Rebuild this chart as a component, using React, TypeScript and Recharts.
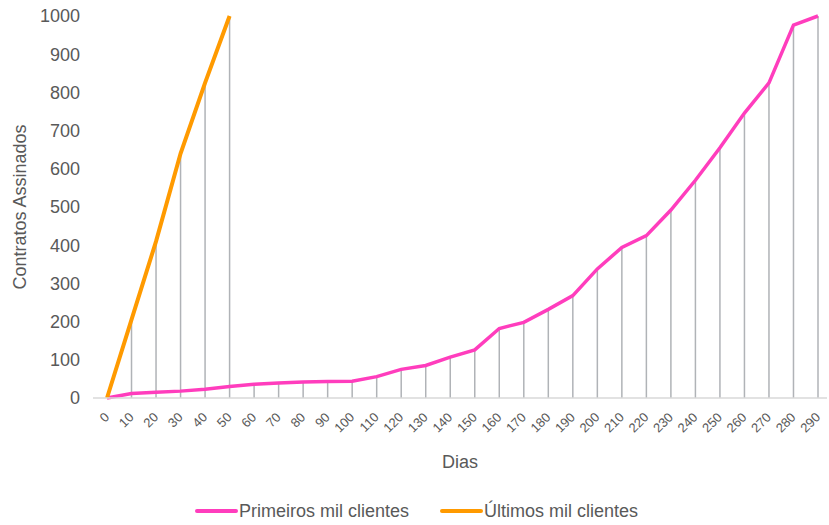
import React from "react";
import { LineChart, Line, XAxis, YAxis, Legend, ErrorBar } from "recharts";

// Dias (categorias do eixo X)
const dias = [
  "0", "10", "20", "30", "40", "50", "60", "70", "80", "90",
  "100", "110", "120", "130", "140", "150", "160", "170", "180", "190",
  "200", "210", "220", "230", "240", "250", "260", "270", "280", "290",
];

// Contratos assinados - primeiros mil clientes
const primeiros = [
  0, 12, 15, 18, 23, 30, 36, 39, 42, 43,
  44, 56, 75, 85, 107, 126, 182, 198, 232, 268,
  338, 394, 425, 492, 570, 655, 746, 825, 976, 1000,
];

// Contratos assinados - últimos mil clientes (só até o dia 50)
const ultimos = [0, 205, 410, 640, 825, 1000];

const yTicks = [0, 100, 200, 300, 400, 500, 600, 700, 800, 900, 1000];

const PINK = "#ff3dbd";
const ORANGE = "#ff9a00";
const GRAY_TEXT = "#595959";
const FONT = "'Liberation Sans', Arial, sans-serif";

const data = dias.map((dia, i) => {
  const u = i < ultimos.length ? ultimos[i] : null;
  return {
    dia,
    primeiros: primeiros[i],
    ultimos: u,
    topo: Math.max(primeiros[i], u ?? 0),
  };
});

const XTick = (props: any) => {
  const { x, y, payload } = props;
  const tx = x + 3;
  const ty = y + 12;
  return (
    <text
      x={tx}
      y={ty}
      textAnchor="end"
      transform={`rotate(-45, ${tx}, ${ty})`}
      fill={GRAY_TEXT}
      fontSize={13}
      fontFamily={FONT}
    >
      {payload.value}
    </text>
  );
};

const LegendContent = () => {
  const items = [
    { label: "Primeiros mil clientes", color: PINK },
    { label: "Últimos mil clientes", color: ORANGE },
  ];
  return (
    <div
      style={{
        display: "flex",
        justifyContent: "center",
        alignItems: "center",
        height: 24,
        gap: 31,
        paddingLeft: 6,
        fontFamily: FONT,
        fontSize: 18,
        color: GRAY_TEXT,
      }}
    >
      {items.map((it) => (
        <div key={it.label} style={{ display: "flex", alignItems: "center" }}>
          <span
            style={{
              display: "inline-block",
              width: 43,
              height: 4,
              background: it.color,
              borderRadius: 2,
              marginRight: 1,
            }}
          />
          <span>{it.label}</span>
        </div>
      ))}
    </div>
  );
};

export default function App() {
  return (
    <div style={{ position: "fixed", left: 0, top: 0, background: "#fff" }}>
      <LineChart
        width={829}
        height={525}
        data={data}
        margin={{ top: 16, right: 2, left: 0, bottom: 2 }}
      >
        <XAxis
          dataKey="dia"
          scale="point"
          padding={{ left: 14, right: 9 }}
          interval={0}
          tickLine={false}
          axisLine={{ stroke: "#d9d9d9", strokeWidth: 1.5 }}
          tick={<XTick />}
          height={101}
          label={{
            value: "Dias",
            position: "insideBottom",
            offset: 31,
            fill: GRAY_TEXT,
            fontSize: 18,
            fontFamily: FONT,
          }}
        />
        <YAxis
          domain={[0, 1000]}
          ticks={yTicks}
          width={93}
          axisLine={false}
          tickLine={false}
          tickMargin={7}
          tick={{ fill: GRAY_TEXT, fontSize: 18, fontFamily: FONT }}
          label={{
            value: "Contratos Assinados",
            angle: -90,
            position: "insideLeft",
            offset: 20,
            fill: GRAY_TEXT,
            fontSize: 18,
            fontFamily: FONT,
            style: { textAnchor: "middle" },
          }}
        />
        <Legend verticalAlign="bottom" height={24} content={<LegendContent />} />
        {/* linhas verticais de cada ponto até o eixo */}
        <Line
          dataKey="topo"
          stroke="none"
          dot={false}
          activeDot={false}
          legendType="none"
          isAnimationActive={false}
        >
          <ErrorBar
            dataKey={(d: any) => [d.topo, 0]}
            direction="y"
            width={0}
            stroke="#b0b3b7"
            strokeWidth={1.5}
            isAnimationActive={false}
          />
        </Line>
        <Line
          dataKey="primeiros"
          name="Primeiros mil clientes"
          stroke={PINK}
          strokeWidth={3.5}
          dot={false}
          activeDot={false}
          isAnimationActive={false}
        />
        <Line
          dataKey="ultimos"
          name="Últimos mil clientes"
          stroke={ORANGE}
          strokeWidth={4}
          dot={false}
          activeDot={false}
          isAnimationActive={false}
        />
      </LineChart>
    </div>
  );
}
